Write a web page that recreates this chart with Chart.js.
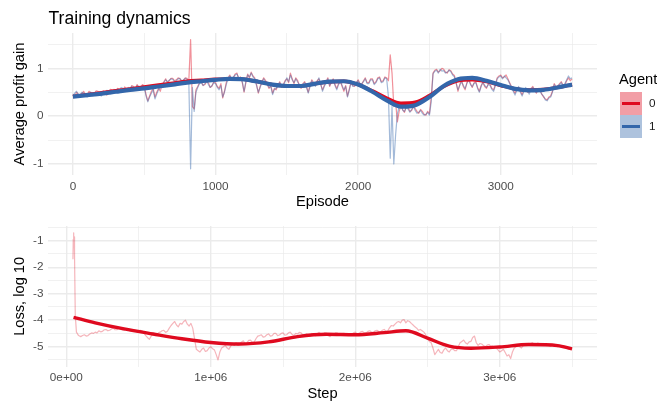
<!DOCTYPE html>
<html lang="en">
<head>
<meta charset="UTF-8">
<title>Training dynamics</title>
<script src="https://cdn.jsdelivr.net/npm/chart.js@4/dist/chart.umd.min.js"></script>
<style>
  html, body { margin:0; padding:0; background:#fff; }
  #wrap { position:relative; width:657px; height:405px; }
  #wrap canvas { position:absolute; left:0; }
  #top { top:0; }
  #bottom { top:212px; }
</style>
</head>
<body>
<div id="wrap">
  <canvas id="top" width="657" height="212"></canvas>
  <canvas id="bottom" width="657" height="193"></canvas>
</div>

<script>
// ── Data: average profit gain per episode (every 12.5 episodes, 8 per row = 100 episodes) ──
const agents = ['0', '1'];

const profitAgent0 = [
  0.45, 0.40, 0.50, 0.46, 0.40, 0.47, 0.52, 0.44,
  0.44, 0.52, 0.49, 0.43, 0.47, 0.53, 0.52, 0.45,
  0.45, 0.53, 0.50, 0.44, 0.48, 0.56, 0.55, 0.49,
  0.50, 0.58, 0.56, 0.50, 0.54, 0.61, 0.58, 0.52,
  0.55, 0.64, 0.62, 0.58, 0.66, 0.60, 0.60, 0.66,
  0.63, 0.45, 0.32, 0.42, 0.52, 0.58, 0.40, 0.50,
  0.58, 0.52, 0.66, 0.72, 0.78, 0.70, 0.74, 0.79,
  0.79, 0.74, 0.76, 0.80, 0.78, 0.74, 0.75, 0.80,
  0.79, 0.74, 1.60, 0.20, 0.15, 0.55, 0.62, 0.70,
  0.72, 0.64, 0.66, 0.72, 0.70, 0.60, 0.63, 0.72,
  0.70, 0.62, 0.58, 0.68, 0.38, 0.52, 0.70, 0.80,
  0.86, 0.76, 0.80, 0.88, 0.90, 0.78, 0.82, 0.70,
  0.50, 0.70, 0.88, 0.80, 0.92, 0.84, 0.80, 0.66,
  0.48, 0.62, 0.72, 0.80, 0.75, 0.66, 0.58, 0.64,
  0.48, 0.58, 0.55, 0.64, 0.72, 0.62, 0.66, 0.74,
  0.78, 0.70, 0.90, 0.78, 0.68, 0.80, 0.75, 0.64,
  0.58, 0.68, 0.72, 0.62, 0.50, 0.64, 0.76, 0.70,
  0.65, 0.74, 0.78, 0.66, 0.55, 0.64, 0.72, 0.80,
  0.62, 0.72, 0.78, 0.66, 0.58, 0.68, 0.74, 0.62,
  0.52, 0.64, 0.42, 0.56, 0.72, 0.64, 0.62, 0.70,
  0.76, 0.68, 0.66, 0.74, 0.80, 0.70, 0.70, 0.78,
  0.78, 0.68, 0.72, 0.80, 0.82, 0.72, 0.74, 0.82,
  0.80, 0.74, 1.28, 0.90, 0.20, 0.30, -0.12, 0.10,
  0.22, 0.14, 0.08, 0.20, 0.18, 0.10, 0.12, 0.20,
  0.16, 0.10, 0.06, 0.14, 0.10, 0.04, 0.02, 0.10,
  0.05, 0.40, 0.90, 0.96, 0.98, 0.92, 0.95, 1.00,
  0.98, 0.92, 0.90, 0.97, 0.95, 0.88, 0.85, 0.70,
  0.52, 0.66, 0.75, 0.62, 0.55, 0.70, 0.78, 0.68,
  0.60, 0.70, 0.72, 0.60, 0.52, 0.64, 0.70, 0.62,
  0.58, 0.68, 0.66, 0.58, 0.55, 0.66, 0.80, 0.84,
  0.86, 0.80, 0.82, 0.86, 0.78, 0.70, 0.62, 0.54,
  0.48, 0.56, 0.60, 0.52, 0.45, 0.54, 0.58, 0.50,
  0.50, 0.58, 0.62, 0.54, 0.48, 0.56, 0.55, 0.46,
  0.40, 0.36, 0.34, 0.40, 0.42, 0.52, 0.68, 0.62,
  0.62, 0.68, 0.72, 0.64, 0.66, 0.74, 0.80, 0.74,
  0.78
];
const profitAgent1 = [
  0.42, 0.48, 0.52, 0.45, 0.44, 0.50, 0.48, 0.42,
  0.40, 0.47, 0.50, 0.45, 0.44, 0.50, 0.50, 0.44,
  0.42, 0.50, 0.48, 0.54, 0.52, 0.47, 0.50, 0.56,
  0.52, 0.56, 0.54, 0.60, 0.58, 0.52, 0.55, 0.60,
  0.58, 0.62, 0.60, 0.56, 0.64, 0.62, 0.58, 0.64,
  0.60, 0.42, 0.30, 0.40, 0.48, 0.55, 0.36, 0.46,
  0.55, 0.60, 0.64, 0.70, 0.76, 0.72, 0.75, 0.78,
  0.77, 0.72, 0.74, 0.78, 0.79, 0.73, 0.76, 0.79,
  0.77, 0.72, -1.10, 0.60, 0.10, 0.50, 0.60, 0.68,
  0.70, 0.64, 0.68, 0.74, 0.66, 0.60, 0.64, 0.70,
  0.68, 0.60, 0.55, 0.64, 0.40, 0.50, 0.66, 0.78,
  0.84, 0.78, 0.82, 0.86, 0.88, 0.80, 0.80, 0.72,
  0.52, 0.72, 0.86, 0.82, 0.90, 0.82, 0.78, 0.64,
  0.50, 0.60, 0.70, 0.78, 0.72, 0.68, 0.60, 0.62,
  0.45, 0.56, 0.58, 0.66, 0.70, 0.60, 0.64, 0.72,
  0.80, 0.72, 0.86, 0.76, 0.70, 0.78, 0.72, 0.66,
  0.60, 0.66, 0.70, 0.60, 0.48, 0.62, 0.74, 0.68,
  0.62, 0.72, 0.80, 0.68, 0.52, 0.62, 0.70, 0.78,
  0.64, 0.70, 0.76, 0.64, 0.55, 0.66, 0.72, 0.64,
  0.55, 0.62, 0.40, 0.54, 0.70, 0.62, 0.64, 0.70,
  0.74, 0.66, 0.68, 0.72, 0.78, 0.68, 0.68, 0.76,
  0.76, 0.66, 0.70, 0.78, 0.80, 0.70, 0.72, 0.80,
  0.78, 0.40, -0.88, 0.20, -1.00, -0.40, 0.05, 0.20,
  0.25, 0.12, 0.10, 0.18, 0.15, 0.08, 0.14, 0.20,
  0.12, 0.06, 0.08, 0.12, 0.06, 0.02, 0.04, 0.08,
  0.02, 0.30, 0.88, 0.94, 0.96, 0.90, 0.98, 0.94,
  0.95, 0.90, 0.92, 0.96, 0.93, 0.86, 0.82, 0.68,
  0.55, 0.64, 0.72, 0.64, 0.58, 0.68, 0.76, 0.66,
  0.62, 0.68, 0.70, 0.58, 0.50, 0.62, 0.72, 0.64,
  0.60, 0.66, 0.64, 0.56, 0.52, 0.64, 0.78, 0.82,
  0.84, 0.78, 0.84, 0.80, 0.76, 0.68, 0.60, 0.52,
  0.44, 0.54, 0.62, 0.50, 0.42, 0.52, 0.60, 0.52,
  0.46, 0.56, 0.60, 0.52, 0.50, 0.54, 0.52, 0.46,
  0.42, 0.34, 0.32, 0.38, 0.40, 0.50, 0.66, 0.60,
  0.64, 0.66, 0.70, 0.62, 0.68, 0.76, 0.84, 0.78,
  0.80
];
const episodes = profitAgent0.map((_, i) => i * 12.5);

// smoothed trend, every 100 episodes
const smoothEpisodes = [
  0, 100, 200, 300, 400, 500, 600, 700, 800, 900, 1000, 1100, 1200, 1300, 1400, 1500, 1600, 1700,
  1800, 1900, 2000, 2100, 2200, 2300, 2400, 2500, 2600, 2700, 2800, 2900, 3000, 3100, 3200, 3300, 3400, 3500
];
const smoothAgent0 = [
  0.41, 0.45, 0.49, 0.53, 0.57, 0.61, 0.65, 0.69, 0.73, 0.75, 0.77, 0.78, 0.77, 0.72, 0.66, 0.63, 0.63, 0.68,
  0.72, 0.73, 0.66, 0.53, 0.38, 0.27, 0.29, 0.43, 0.62, 0.74, 0.76, 0.72, 0.64, 0.57, 0.55, 0.56, 0.60, 0.66
];
const smoothAgent1 = [
  0.41, 0.44, 0.47, 0.51, 0.55, 0.58, 0.62, 0.66, 0.70, 0.73, 0.76, 0.78, 0.77, 0.72, 0.66, 0.63, 0.63, 0.68,
  0.72, 0.73, 0.66, 0.51, 0.33, 0.20, 0.23, 0.40, 0.63, 0.77, 0.80, 0.74, 0.65, 0.57, 0.54, 0.55, 0.60, 0.66
];

const episodeTicks = [0, 500, 1000, 1500, 2000, 2500, 3000, 3500];
const episodeTickLabels = ['0', '', '1000', '', '2000', '', '3000', ''];
const profitTicks = [-1, -0.5, 0, 0.5, 1, 1.5];
const profitTickLabels = ['-1', '', '0', '', '1', ''];

// ── Data: loss (log10) per step ──
const lossSpikeSteps = [46000, 48000, 50000, 52000, 54000, 57000, 62000, 70000, 85000];
const lossSpikeValues = [-1.70, -0.95, -0.70, -1.20, -0.85, -1.60, -3.80, -4.45, -4.58];
// from step 100000, every 12500 steps (8 per row = 100000 steps)
const lossValues = [
  -4.62, -4.58, -4.55, -4.60, -4.58, -4.52, -4.48, -4.50,
  -4.45, -4.48, -4.40, -4.44, -4.42, -4.36, -4.35, -4.40,
  -4.38, -4.33, -4.30, -4.36, -4.36, -4.30, -4.32, -4.37,
  -4.38, -4.32, -4.34, -4.40, -4.42, -4.36, -4.38, -4.44,
  -4.45, -4.38, -4.40, -4.48, -4.58, -4.66, -4.72, -4.60,
  -4.50, -4.56, -4.55, -4.48, -4.45, -4.40, -4.38, -4.46,
  -4.42, -4.30, -4.20, -4.12, -4.05, -4.18, -4.25, -4.12,
  -4.15, -4.05, -4.00, -4.15, -4.22, -4.12, -4.30, -4.70,
  -5.10, -5.15, -5.20, -5.10, -5.05, -5.18, -5.15, -5.05,
  -5.00, -5.08, -5.12, -5.30, -5.50, -5.20, -5.05, -5.00,
  -4.95, -5.05, -5.10, -4.98, -4.90, -4.95, -4.85, -4.95,
  -4.92, -4.82, -4.78, -4.88, -4.85, -4.76, -4.75, -4.84,
  -4.82, -4.70, -4.60, -4.58, -4.55, -4.64, -4.62, -4.55,
  -4.52, -4.60, -4.58, -4.50, -4.50, -4.58, -4.56, -4.50,
  -4.48, -4.56, -4.55, -4.48, -4.45, -4.54, -4.58, -4.50,
  -4.52, -4.46, -4.48, -4.56, -4.60, -4.52, -4.55, -4.60,
  -4.50, -4.56, -4.58, -4.50, -4.46, -4.52, -4.55, -4.48,
  -4.50, -4.58, -4.62, -4.55, -4.55, -4.48, -4.48, -4.54,
  -4.56, -4.50, -4.50, -4.56, -4.58, -4.52, -4.52, -4.48,
  -4.45, -4.52, -4.50, -4.44, -4.42, -4.48, -4.48, -4.42,
  -4.40, -4.45, -4.46, -4.40, -4.38, -4.43, -4.44, -4.38,
  -4.35, -4.42, -4.40, -4.28, -4.20, -4.22, -4.15, -4.08,
  -4.05, -4.10, -4.00, -3.98, -4.10, -4.02, -4.05, -4.12,
  -4.18, -4.25, -4.30, -4.38, -4.35, -4.40, -4.45, -4.55,
  -4.70, -4.80, -4.85, -5.05, -5.30, -5.20, -5.10, -5.22,
  -5.25, -5.12, -5.05, -5.15, -5.20, -5.10, -5.08, -5.15,
  -5.15, -5.00, -4.85, -4.80, -4.75, -4.85, -4.90, -4.82,
  -4.80, -4.65, -4.60, -4.85, -4.95, -4.88, -4.90, -4.96,
  -5.00, -4.94, -4.92, -4.98, -4.98, -5.02, -5.05, -5.12,
  -5.20, -5.15, -5.10, -5.22, -5.35, -5.30, -5.45, -5.20,
  -5.05, -5.00, -4.95, -5.00, -5.05, -4.95, -4.90, -4.94,
  -4.95, -4.88, -4.85, -4.90, -4.92, -4.86, -4.88, -4.93,
  -4.95, -4.92, -4.90, -4.95, -4.98, -4.93, -4.92, -4.96,
  -5.00, -4.96, -4.98, -5.04, -5.05, -5.02, -5.10, -5.06,
  -5.08
];
const lossSteps = lossSpikeSteps.concat(lossValues.map((_, i) => 100000 + i * 12500));
const lossAll = lossSpikeValues.concat(lossValues);

const lossSmoothSteps = [
  50000, 200000, 400000, 600000, 800000, 1000000, 1200000, 1400000, 1600000, 1800000,
  2000000, 2200000, 2350000, 2500000, 2650000, 2800000, 3000000, 3200000, 3400000, 3500000
];
const lossSmoothValues = [
  -3.89, -4.10, -4.33, -4.52, -4.70, -4.84, -4.90, -4.82, -4.62, -4.53,
  -4.55, -4.47, -4.40, -4.68, -4.98, -5.06, -5.01, -4.92, -4.96, -5.08
];

const stepTicks = [0, 500000, 1000000, 1500000, 2000000, 2500000, 3000000, 3500000];
const stepTickLabels = ['0e+00', '', '1e+06', '', '2e+06', '', '3e+06', ''];
const lossTicks = [-5.5, -5, -4.5, -4, -3.5, -3, -2.5, -2, -1.5, -1, -0.5];
const lossTickLabels = ['', '-5', '', '-4', '', '-3', '', '-2', '', '-1', ''];

// ── Styles ──
const FONT = '"Liberation Sans", Arial, Helvetica, sans-serif';
const TICK_COLOR = '#4D4D4D';
const GRID_COLOR = '#EBEBEB';
const lineColors = ['#DF0A1F', '#3366AA'];
const rawColors = ['rgba(223, 10, 31, 0.45)', 'rgba(51, 102, 170, 0.45)'];
const keyFills = ['#F29EA6', '#ADC2DD'];

const pts = (xs, ys) => xs.map((x, i) => ({ x, y: ys[i] }));

function axis({ min, max, ticks, labels, size, title, titlePad, horizontal }) {
  return {
    type: 'linear',
    min, max,
    afterFit: s => { if (horizontal) s.height = size; else s.width = size; },
    afterBuildTicks: s => { s.ticks = ticks.map(v => ({ value: v })); },
    ticks: {
      autoSkip: false, maxRotation: 0, minRotation: 0,
      padding: 4.5,
      color: TICK_COLOR,
      font: { family: FONT, size: 11.73 },
      callback: (v, i) => labels[i]
    },
    grid: {
      drawTicks: false, tickLength: 0,
      color: GRID_COLOR,
      lineWidth: ctx => (labels[ctx.index] ? 1.4 : 0.7)
    },
    border: { display: false },
    title: {
      display: true, text: title, color: '#000',
      font: { family: FONT, size: 14.67 },
      padding: titlePad
    }
  };
}

// lower "order" is drawn on top
const rawLine = (data, color, order) => ({
  data, order, borderColor: color, borderWidth: 1.2, pointRadius: 0, tension: 0, borderJoinStyle: 'round'
});
const smoothLine = (data, color, width, order) => ({
  data, order, borderColor: color, borderWidth: width, pointRadius: 0,
  cubicInterpolationMode: 'monotone', borderJoinStyle: 'round'
});

// title + legend drawn on the top canvas
const decorations = {
  id: 'decorations',
  afterDraw(chart) {
    const c = chart.ctx;
    c.save();
    c.fillStyle = '#000';
    c.textBaseline = 'alphabetic';
    c.font = '17.6px ' + FONT;
    c.fillText('Training dynamics', 48.5, 24.3);

    c.font = '14.67px ' + FONT;
    c.fillText('Agent', 619, 84);
    agents.forEach((a, i) => {
      const y = 92 + i * 23;
      c.fillStyle = keyFills[i];
      c.fillRect(620, y, 22, 23);
      c.strokeStyle = lineColors[i];
      c.lineWidth = 3;
      c.beginPath();
      c.moveTo(622, y + 11.5);
      c.lineTo(640, y + 11.5);
      c.stroke();
      c.fillStyle = '#1A1A1A';
      c.font = '11.73px ' + FONT;
      c.textBaseline = 'middle';
      c.fillText(a, 649, y + 12);
      c.textBaseline = 'alphabetic';
    });
    c.restore();
  }
};

const baseOptions = {
  responsive: false,
  animation: false,
  events: [],
  plugins: { legend: { display: false }, tooltip: { enabled: false } }
};

new Chart(document.getElementById('top'), {
  type: 'line',
  data: {
    datasets: [
      rawLine(pts(episodes, profitAgent0), rawColors[0], 4),
      rawLine(pts(episodes, profitAgent1), rawColors[1], 3),
      smoothLine(pts(smoothEpisodes, smoothAgent0), lineColors[0], 3.4, 2),
      smoothLine(pts(smoothEpisodes, smoothAgent1), lineColors[1], 4.2, 1)
    ]
  },
  options: {
    ...baseOptions,
    layout: { padding: { top: 33, right: 60, bottom: 0, left: 0 } },
    scales: {
      x: axis({ min: -175, max: 3675, ticks: episodeTicks, labels: episodeTickLabels,
        size: 37, title: 'Episode', titlePad: { top: 0, bottom: 1.1 }, horizontal: true }),
      y: axis({ min: -1.23, max: 1.738, ticks: profitTicks, labels: profitTickLabels,
        size: 48, title: 'Average profit gain', titlePad: { top: 10.8, bottom: 0 }, horizontal: false })
    }
  },
  plugins: [decorations]
});

new Chart(document.getElementById('bottom'), {
  type: 'line',
  data: {
    datasets: [
      rawLine(pts(lossSteps, lossAll), 'rgba(223, 10, 31, 0.30)', 2),
      smoothLine(pts(lossSmoothSteps, lossSmoothValues), lineColors[0], 3.4, 1)
    ]
  },
  options: {
    ...baseOptions,
    layout: { padding: { top: 14, right: 60, bottom: 0, left: 0 } },
    scales: {
      x: axis({ min: -126700, max: 3672700, ticks: stepTicks, labels: stepTickLabels,
        size: 38.3, title: 'Step', titlePad: { top: 0, bottom: 2.5 }, horizontal: true }),
      y: axis({ min: -5.755, max: -0.445, ticks: lossTicks, labels: lossTickLabels,
        size: 48, title: 'Loss, log 10', titlePad: { top: 10.8, bottom: 0 }, horizontal: false })
    }
  }
});
</script>
</body>
</html>
